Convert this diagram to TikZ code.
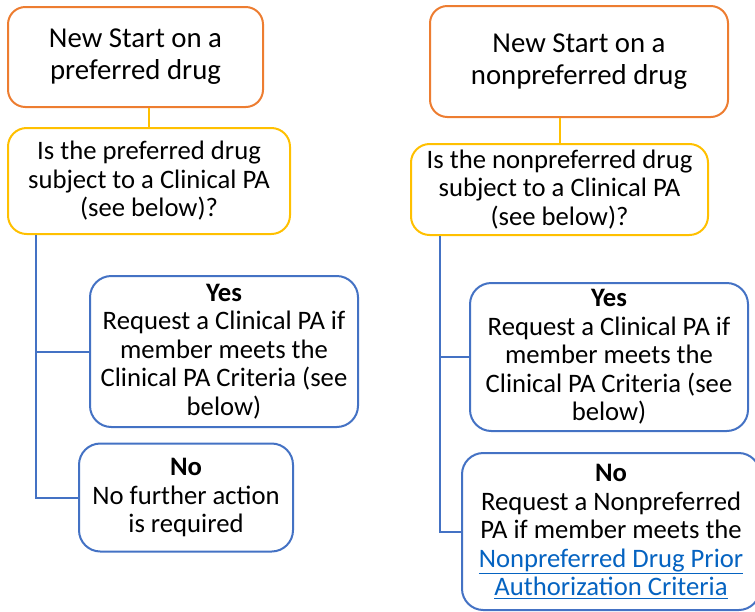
\documentclass[tikz,border=0pt]{standalone}
\usepackage{fontspec}
\setmainfont{Carlito}
\usepackage{xcolor}
\usetikzlibrary{calc, positioning}
\definecolor{startorange}{HTML}{ED7D31}
\definecolor{askgold}{HTML}{FFC000}
\definecolor{answerblue}{HTML}{4472C4}
\definecolor{linkblue}{HTML}{0563C1}
\newcommand{\linktext}[1]{\textcolor{linkblue}{\underline{#1}}}

\begin{document}
\begin{tikzpicture}[x=0.75pt, y=-0.75pt,
        box/.style={draw, line width=1.5pt, fill=white, align=center, inner sep=0pt,
                font=\fontsize{20}{21.4}\selectfont},
        startbox/.style={box, draw=startorange, rounded corners=13pt, font=\fontsize{21.6}{24}\selectfont},
        askbox/.style={box, draw=askgold, rounded corners=14pt},
        answerbox/.style={box, draw=answerblue, rounded corners=16pt},
        askline/.style={draw=askgold, line width=1.5pt},
        answerline/.style={draw=answerblue, line width=1.5pt}]
                                \useasboundingbox (0, 0) rectangle (755, 611);

                                % preferred drug
                                \node[startbox, minimum width=191.25pt, minimum height=75pt] (startp) at (135.5, 57) {New Start on a\\preferred drug};
                                \node[askbox, minimum width=211.5pt, minimum height=79.5pt] (askp) at (149, 181) {Is the preferred drug\\subject to a Clinical PA\\(see below)?};
                                \node[answerbox, minimum width=201pt, minimum height=113.25pt] (yesp) at (224, 351.5) {\textbf{Yes}\\Request a Clinical PA if\\member meets the\\Clinical PA Criteria (see\\below)};
                                \node[answerbox, minimum width=160.5pt, minimum height=81pt] (nop) at (186, 497.5) {\textbf{No}\\No further action\\is required};
                                \coordinate (trunkp) at ($(askp.south west)+(29, 0)$);

                                % nonpreferred drug
                                \node[startbox, minimum width=223.5pt, minimum height=83.25pt] (startn) at (579, 61.5) {New Start on a\\nonpreferred drug};
                                \node[askbox, minimum width=222.75pt, minimum height=68.25pt] (askn) at (559.5, 189.5) {Is the nonpreferred drug\\subject to a Clinical PA\\(see below)?};
                                \node[answerbox, minimum width=208.5pt, minimum height=111pt] (yesn) at (609, 357) {\textbf{Yes}\\Request a Clinical PA if\\member meets the\\Clinical PA Criteria (see\\below)};
                                \node[answerbox, minimum width=223.5pt, minimum height=117.75pt] (non) at (611, 531.5) {\textbf{No}\\Request a Nonpreferred\\PA if member meets the\\\linktext{Nonpreferred Drug Prior}\\\linktext{Authorization Criteria}};
                                \coordinate (trunkn) at ($(askn.south west)+(30, 0)$);

                                \draw[askline] (askp.north) -- (askp.north |- startp.south);
                                \draw[askline] (askn.north) -- (askn.north |- startn.south);
                                \draw[answerline]
                                (trunkp) |- (yesp.west)
                                (trunkp) |- (nop.west)
                                (trunkn) |- (yesn.west)
                                (trunkn) |- (non.west);
                            \end{tikzpicture}
\end{document}
